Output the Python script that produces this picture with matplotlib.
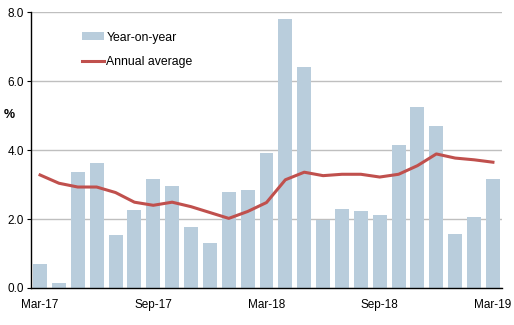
import numpy as np
import matplotlib
matplotlib.use("Agg")
import matplotlib.pyplot as plt

plt.rcParams["font.family"] = ["Liberation Sans", "DejaVu Sans"]

months = ["Mar-17", "Apr-17", "May-17", "Jun-17", "Jul-17", "Aug-17", "Sep-17",
          "Oct-17", "Nov-17", "Dec-17", "Jan-18", "Feb-18", "Mar-18", "Apr-18",
          "May-18", "Jun-18", "Jul-18", "Aug-18", "Sep-18", "Oct-18", "Nov-18",
          "Dec-18", "Jan-19", "Feb-19", "Mar-19"]
yoy = [0.69, 0.14, 3.36, 3.62, 1.53, 2.26, 3.16, 2.96, 1.76, 1.31, 2.78, 2.84,
       3.93, 7.82, 6.42, 1.98, 2.30, 2.24, 2.12, 4.16, 5.26, 4.71, 1.57, 2.06, 3.17]
annual_avg = [3.28, 3.04, 2.93, 2.93, 2.77, 2.49, 2.40, 2.49, 2.36, 2.19, 2.02, 2.22,
              2.48, 3.14, 3.36, 3.26, 3.30, 3.30, 3.22, 3.30, 3.55, 3.89, 3.77, 3.72, 3.65]
tick_labels = ["Mar-17", "Sep-17", "Mar-18", "Sep-18", "Mar-19"]

fig = plt.figure(figsize=(5.14, 3.25), dpi=100)
ax = fig.add_axes([31 / 514, 37 / 325, 471 / 514, 275.7 / 325])

x = np.arange(len(months))
bars = ax.bar(x, yoy, width=0.74, color="#B9CDDC", label="Year-on-year", zorder=2)
line, = ax.plot(x, annual_avg, color="#C0504D", linewidth=2.2, label="Annual average", zorder=3)

ax.set_xlim(-0.48, len(months) - 0.52)
ax.set_ylim(0, 8)
ax.set_yticks([0, 2, 4, 6, 8])
ax.set_yticklabels([f"{v:.1f}" for v in [0, 2, 4, 6, 8]], fontsize=8.5)
ax.set_xticks([months.index(m) for m in tick_labels])
ax.set_xticklabels(tick_labels, fontsize=8.5)
ax.tick_params(axis="x", length=0, pad=8)
ax.tick_params(axis="y", length=3, width=0.8, pad=2, direction="out")

ax.grid(axis="y", color="#BFBFBF", linewidth=1, zorder=0)
ax.set_axisbelow(True)
for s in ["top", "right"]:
    ax.spines[s].set_visible(False)
ax.spines["left"].set_linewidth(1)
ax.spines["bottom"].set_linewidth(1)

ax.text(-0.045, 5.03, "%", transform=ax.get_yaxis_transform(), fontsize=9,
        fontweight="bold", ha="center", va="center")

ax.legend(handles=[bars, line], loc="upper left", bbox_to_anchor=(0.108, 0.93),
          frameon=False, fontsize=8.8, handlelength=1.8, handleheight=0.6,
          handletextpad=0.2, borderpad=0, borderaxespad=0, labelspacing=1.05)

fig.savefig("out.png", dpi=100)
